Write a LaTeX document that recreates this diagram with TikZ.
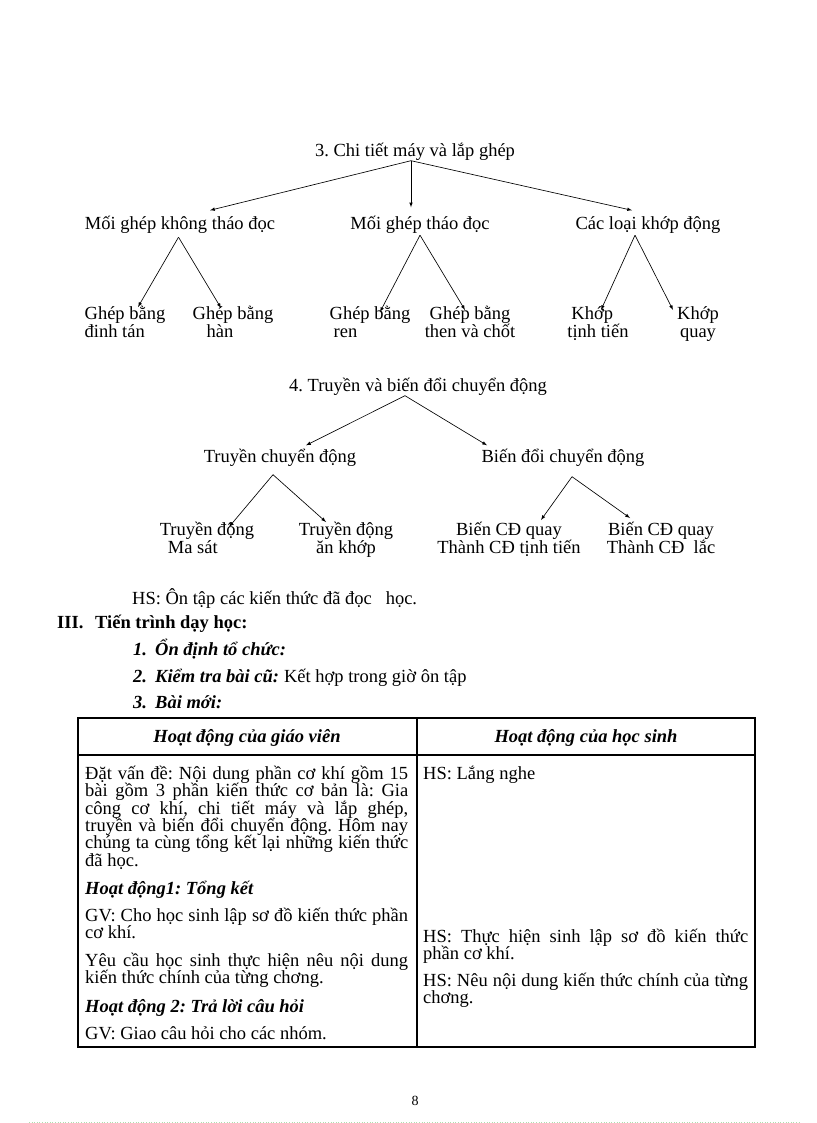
\documentclass[tikz,border=0pt]{standalone}
\usepackage{fontspec}
\setmainfont{Liberation Serif}
\usetikzlibrary{arrows}
\newcommand\chu{\fontsize{18.5}{17.4}\selectfont\lineskiplimit=-100pt\frenchspacing\relax}

\begin{document}
\begin{tikzpicture}[x=1pt,y=-1pt,
  every node/.style={font=\chu,inner sep=0pt},
  nhan/.style={text height=13pt,text depth=4pt},
  la/.style={anchor=base,align=center},
  muiten/.style={-latex,line width=0.65pt},
  doan/.style={anchor=north west,text width=323pt,align=justify},
  dam/.style={font=\chu\bfseries\itshape},
]
\useasboundingbox (0,0) rectangle (816,1123);

% So do 3
\node[nhan] (t3) at (415,152) {3. Chi tiết máy và lắp ghép};
\node[nhan] (a1) at (180,225) {Mối ghép không tháo đọc};
\node[nhan] (a2) at (420,225) {Mối ghép tháo đọc};
\node[nhan] (a3) at (648,225) {Các loại khớp động};

\node[la,align=left] (l1) at (125,337) {Ghép bằng\\đinh tán};
\node[la,align=left] (l2) at (233,337) {Ghép bằng\\\hspace*{14pt}hàn};
\node[la,align=left] (l3) at (370,337) {Ghép bằng\\\hspace*{4pt}ren};
\node[la] (l4) at (470,337) {Ghép bằng\\then và chốt};
\node[la,align=left] (l5) at (598,337) {\hspace*{4pt}Khớp\\tịnh tiến};
\node[la] (l6) at (698,337) {Khớp\\quay};

\draw[muiten] ([xshift=-4pt]t3.south) -- ([xshift=30pt,yshift=6pt]a1.north);
\draw[muiten] ([xshift=-4pt]t3.south) -- ([xshift=-9pt,yshift=9pt]a2.north);
\draw[muiten] ([xshift=-4pt]t3.south) -- ([xshift=-16pt,yshift=6pt]a3.north);

\draw[muiten] ([xshift=-1.5pt,yshift=-3.5pt]a1.south) -- ([xshift=13pt,yshift=30pt]l1.base);
\draw[muiten] ([xshift=-1.5pt,yshift=-3.5pt]a1.south) -- ([xshift=-12pt,yshift=29pt]l2.base);
\draw[muiten] ([yshift=-1.5pt]a2.south) -- ([xshift=10pt,yshift=25pt]l3.base);
\draw[muiten] ([yshift=-1.5pt]a2.south) -- ([xshift=-5pt,yshift=27pt]l4.base);
\draw[muiten] ([xshift=-13pt,yshift=-1.5pt]a3.south) -- ([xshift=3pt,yshift=27pt]l5.base);
\draw[muiten] ([xshift=-13pt,yshift=-1.5pt]a3.south) -- ([xshift=-25pt,yshift=27pt]l6.base);

% So do 4
\node[nhan] (t4) at (418,387) {4. Truyền và biến đổi chuyển động};
\node[nhan] (b1) at (280,458) {Truyền chuyển động};
\node[nhan] (b2) at (563,458) {Biến đổi chuyển động};

\node[la,align=left] (m1) at (207,553) {Truyền động\\\hspace*{8pt}Ma sát};
\node[la] (m2) at (346,553) {Truyền động\\ăn khớp};
\node[la] (m3) at (509,553) {Biến CĐ quay\\Thành CĐ tịnh tiến};
\node[la] (m4) at (661,553) {Biến CĐ quay\\Thành CĐ\ \ lắc};

\draw[muiten] ([xshift=-13pt]t4.south) -- ([xshift=26pt,yshift=4pt]b1.north);
\draw[muiten] ([xshift=-13pt]t4.south) -- ([xshift=-76pt,yshift=4pt]b2.north);

\draw[muiten] ([xshift=-7pt,yshift=-8pt]b1.south) -- ([xshift=22pt,yshift=26pt]m1.base);
\draw[muiten] ([xshift=-7pt,yshift=-8pt]b1.south) -- ([xshift=-20pt,yshift=31pt]m2.base);
\draw[muiten] ([xshift=9pt,yshift=-10pt]b2.south) -- ([xshift=32pt,yshift=33pt]m3.base);
\draw[muiten] ([xshift=9pt,yshift=-10pt]b2.south) -- ([xshift=-31pt,yshift=35pt]m4.base);

% Phan chu
\node[anchor=base west] (hs) at (132,604) {HS: Ôn tập các kiến thức đã đọc\ \ \ học.};
\node[anchor=base west,font=\chu\bfseries] (so3) at (57,628) {III.};
\node[anchor=base west,font=\chu\bfseries] (tientrinh) at (95,628) {Tiến trình dạy học:};

\foreach \so/\y/\ten in {1/655/Ổn định tổ chức:,2/682/Kiểm tra bài cũ:,3/708/Bài mới:}
{
\node[anchor=base west,dam] (so\so) at (133,\y) {\so.};
\node[anchor=base west,dam] (muc\so) at (155,\y) {\ten};
}
\node[anchor=base west] (kethop) at (muc2.base east) {\ Kết hợp trong giờ ôn tập};

% Bang
\draw[line width=1.1pt] (78,718) rectangle (755,1047);
\draw[line width=1.1pt] (78,755) -- (755,755);
\draw[line width=1.1pt] (417,718) -- (417,1047);

\node[nhan,dam] (gv) at (247,738) {Hoạt động của giáo viên};
\node[nhan,dam] (hocsinh) at (586,738) {Hoạt động của học sinh};

\node[doan] (p1) at (85,761) {\rule{0pt}{18pt}Đặt vấn đề: Nội dung phần cơ khí gồm 15\linebreak bài gồm 3 phần kiến thức cơ bản là: Gia\linebreak công cơ khí, chi tiết máy và lắp ghép,\linebreak truyền và biến đổi chuyển động. Hôm nay\linebreak chúng ta cùng tổng kết lại những kiến thức\linebreak đã học.};
\node[doan,dam] (p2) at (85,876) {\rule{0pt}{18pt}Hoạt động1: Tổng kết};
\node[doan] (p3) at (85,903) {\rule{0pt}{18pt}GV: Cho học sinh lập sơ đồ kiến thức phần\linebreak cơ khí.};
\node[doan] (p4) at (85,948) {\rule{0pt}{18pt}Yêu cầu học sinh thực hiện nêu nội dung\linebreak kiến thức chính của từng chơng.};
\node[doan,dam] (p5) at (85,994) {\rule{0pt}{18pt}Hoạt động 2: Trả lời câu hỏi};
\node[doan] (p6) at (85,1021) {\rule{0pt}{18pt}GV: Giao câu hỏi cho các nhóm.};

\node[doan,text width=325pt] (q1) at (423,761) {\rule{0pt}{18pt}HS: Lắng nghe};
\node[doan,text width=325pt] (q2) at (423,924) {\rule{0pt}{18pt}HS: Thực hiện sinh lập sơ đồ kiến thức\linebreak phần cơ khí.};
\node[doan,text width=325pt] (q3) at (423,968) {\rule{0pt}{18pt}HS: Nêu nội dung kiến thức chính của từng\linebreak chơng.};

% Trang
\node[font=\fontsize{14}{16}\selectfont] (trang) at (415,1101) {8};
\draw[dotted,line width=0.6pt,green!40!gray!45] (29,1122) -- (800,1122);

\end{tikzpicture}
\end{document}
